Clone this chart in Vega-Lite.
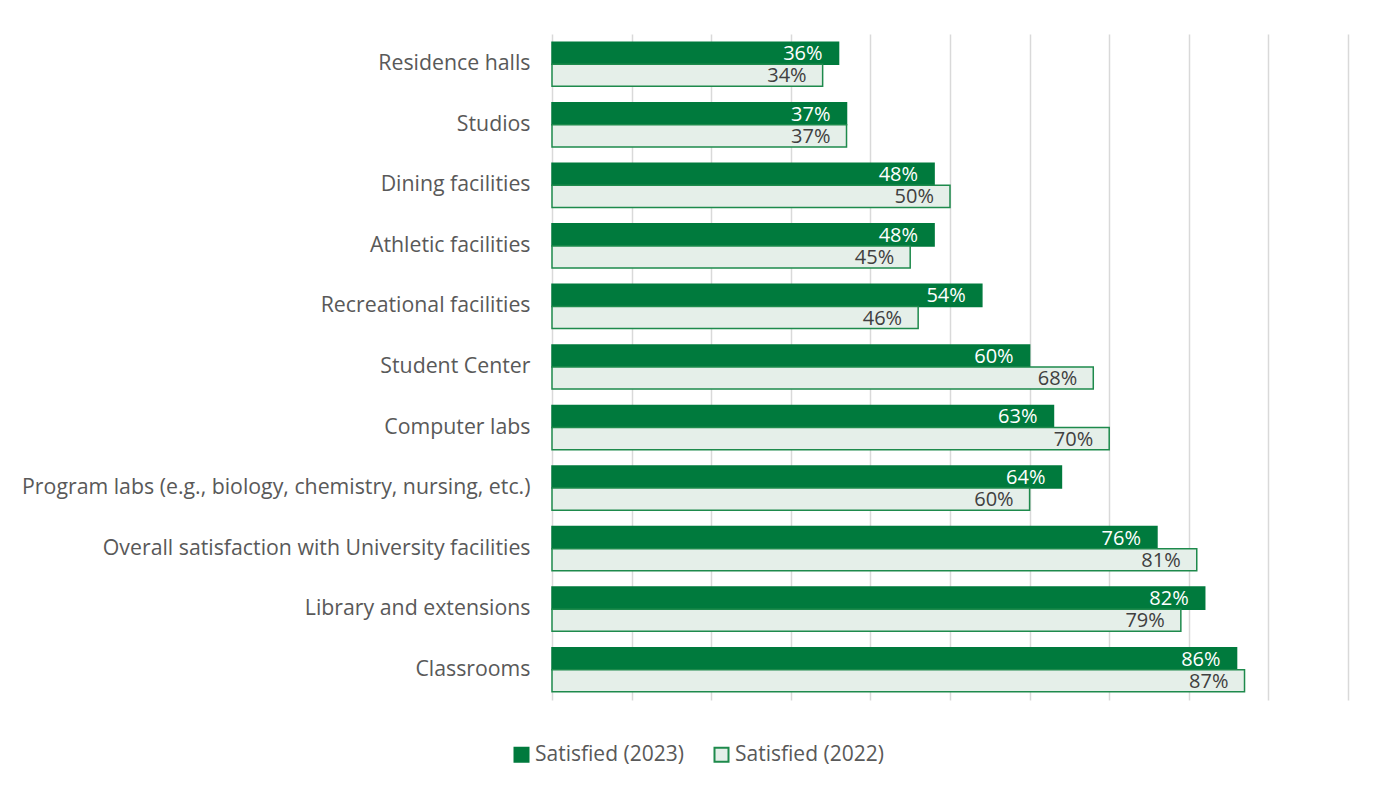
{
  "$schema": "https://vega.github.io/schema/vega-lite/v6.json",
  "width": 796,
  "height": 666,
  "autosize": {"type": "none"},
  "padding": {"left": 552, "top": 34, "right": 34, "bottom": 90},
  "background": "white",
  "config": {
    "font": "Open Sans",
    "view": {"stroke": null}
  },
  "data": {
    "values": [
      {"facility": "Residence halls", "year": "Satisfied (2023)", "value": 0.36},
      {"facility": "Residence halls", "year": "Satisfied (2022)", "value": 0.34},
      {"facility": "Studios", "year": "Satisfied (2023)", "value": 0.37},
      {"facility": "Studios", "year": "Satisfied (2022)", "value": 0.37},
      {"facility": "Dining facilities", "year": "Satisfied (2023)", "value": 0.48},
      {"facility": "Dining facilities", "year": "Satisfied (2022)", "value": 0.50},
      {"facility": "Athletic facilities", "year": "Satisfied (2023)", "value": 0.48},
      {"facility": "Athletic facilities", "year": "Satisfied (2022)", "value": 0.45},
      {"facility": "Recreational facilities", "year": "Satisfied (2023)", "value": 0.54},
      {"facility": "Recreational facilities", "year": "Satisfied (2022)", "value": 0.46},
      {"facility": "Student Center", "year": "Satisfied (2023)", "value": 0.60},
      {"facility": "Student Center", "year": "Satisfied (2022)", "value": 0.68},
      {"facility": "Computer labs", "year": "Satisfied (2023)", "value": 0.63},
      {"facility": "Computer labs", "year": "Satisfied (2022)", "value": 0.70},
      {"facility": "Program labs (e.g., biology, chemistry, nursing, etc.)", "year": "Satisfied (2023)", "value": 0.64},
      {"facility": "Program labs (e.g., biology, chemistry, nursing, etc.)", "year": "Satisfied (2022)", "value": 0.60},
      {"facility": "Overall satisfaction with University facilities", "year": "Satisfied (2023)", "value": 0.76},
      {"facility": "Overall satisfaction with University facilities", "year": "Satisfied (2022)", "value": 0.81},
      {"facility": "Library and extensions", "year": "Satisfied (2023)", "value": 0.82},
      {"facility": "Library and extensions", "year": "Satisfied (2022)", "value": 0.79},
      {"facility": "Classrooms", "year": "Satisfied (2023)", "value": 0.86},
      {"facility": "Classrooms", "year": "Satisfied (2022)", "value": 0.87}
    ]
  },
  "encoding": {
    "y": {
      "field": "facility",
      "type": "nominal",
      "sort": null,
      "scale": {"paddingInner": 0.27, "paddingOuter": 0.135},
      "axis": {
        "title": null,
        "domain": false,
        "ticks": false,
        "labelPadding": 22,
        "labelFontSize": 21.3,
        "labelColor": "#595959",
        "labelLimit": 700
      }
    },
    "yOffset": {
      "field": "year",
      "type": "nominal",
      "sort": ["Satisfied (2023)", "Satisfied (2022)"],
      "scale": {"paddingInner": 0, "paddingOuter": 0}
    },
    "x": {
      "field": "value",
      "type": "quantitative",
      "scale": {"domain": [0, 1], "nice": false},
      "axis": {
        "title": null,
        "labels": false,
        "ticks": false,
        "domain": false,
        "values": [0, 0.1, 0.2, 0.3, 0.4, 0.5, 0.6, 0.7, 0.8, 0.9, 1.0],
        "gridColor": "#D9D9D9",
        "gridWidth": 1.5
      }
    }
  },
  "layer": [
    {
      "mark": {"type": "bar", "strokeWidth": 1.5},
      "encoding": {
        "fill": {
          "field": "year",
          "type": "nominal",
          "sort": ["Satisfied (2023)", "Satisfied (2022)"],
          "scale": {"domain": ["Satisfied (2023)", "Satisfied (2022)"], "range": ["#007A3D", "#E5EFE9"]},
          "legend": {
            "title": null,
            "orient": "none",
            "direction": "horizontal",
            "legendX": -41,
            "legendY": 710,
            "symbolType": "square",
            "symbolSize": 196,
            "symbolStrokeWidth": 2,
            "symbolOpacity": 1,
            "labelFontSize": 21,
            "labelColor": "#595959",
            "labelOffset": 3,
            "columnPadding": 26
          }
        },
        "stroke": {
          "field": "year",
          "type": "nominal",
          "sort": ["Satisfied (2023)", "Satisfied (2022)"],
          "scale": {"domain": ["Satisfied (2023)", "Satisfied (2022)"], "range": ["#007A3D", "#1E8A4C"]},
          "legend": null
        }
      }
    },
    {
      "mark": {"type": "text", "align": "right", "baseline": "middle", "dx": -16, "dy": 1, "fontSize": 20},
      "encoding": {
        "text": {"field": "value", "type": "quantitative", "format": ".0%"},
        "color": {
          "field": "year",
          "type": "nominal",
          "scale": {"domain": ["Satisfied (2023)", "Satisfied (2022)"], "range": ["#FFFFFF", "#404040"]},
          "legend": null
        }
      }
    }
  ]
}
